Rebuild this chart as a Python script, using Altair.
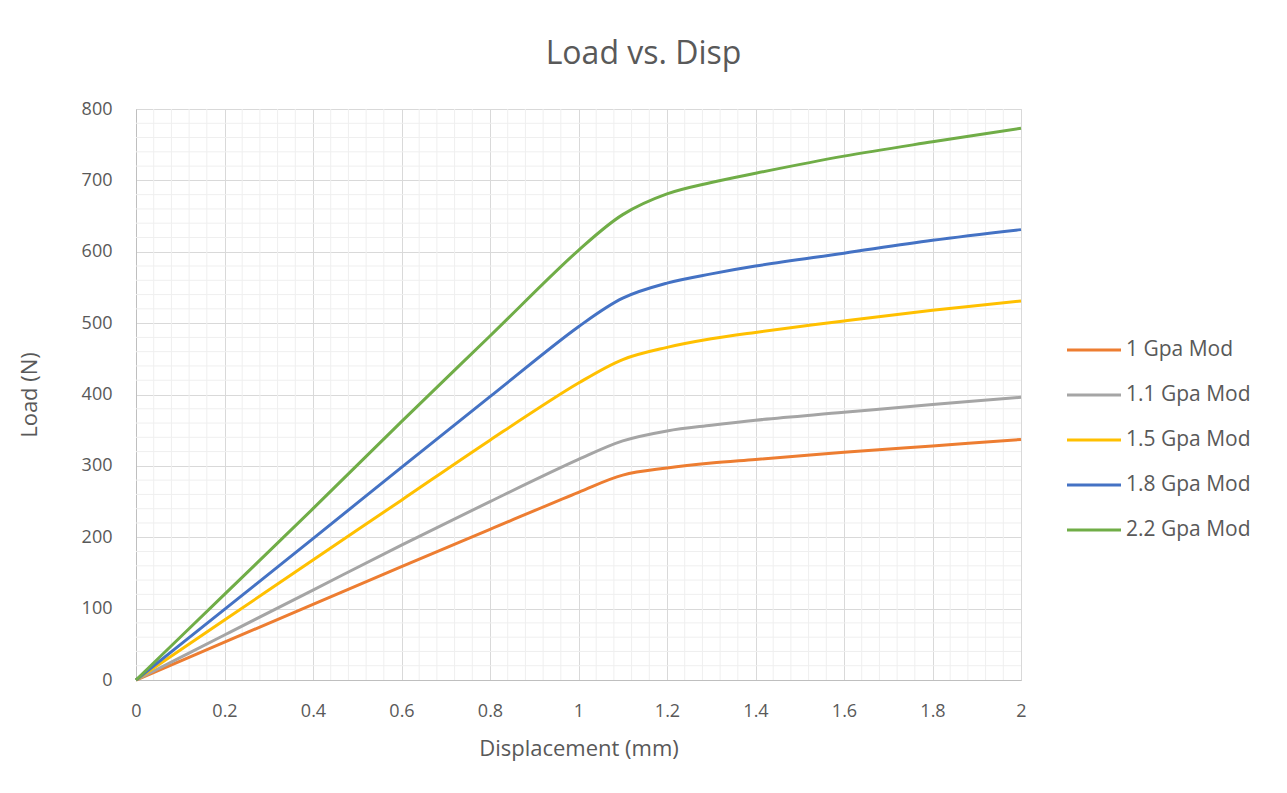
import altair as alt
import pandas as pd
import numpy as np

disp = [0, 0.2, 0.4, 0.6, 0.8, 1.0, 1.1, 1.2, 1.3, 1.4, 1.6, 1.8, 2.0]
series_names = ["1 Gpa Mod", "1.1 Gpa Mod", "1.5 Gpa Mod", "1.8 Gpa Mod", "2.2 Gpa Mod"]
load_1_0 = [0, 53, 106, 159, 211, 263, 287, 297, 304, 309, 319, 328, 337]
load_1_1 = [0, 63, 126, 189, 250, 309, 335, 349, 357, 364, 375, 386, 396]
load_1_5 = [0, 84, 168, 252, 336, 416, 449, 466, 478, 487, 503, 518, 531]
load_1_8 = [0, 99, 198, 298, 397, 495, 535, 556, 569, 580, 598, 616, 631]
load_2_2 = [0, 120, 240, 362, 482, 602, 652, 681, 697, 710, 734, 754, 773]
colors = ["#ED7D31", "#A5A5A5", "#FFC000", "#4472C4", "#70AD47"]

x_ticks = [0, 0.2, 0.4, 0.6, 0.8, 1.0, 1.2, 1.4, 1.6, 1.8, 2.0]
y_ticks = [0, 100, 200, 300, 400, 500, 600, 700, 800]
x_minor = [round(v, 2) for v in np.arange(0, 2.0001, 0.04) if abs(v / 0.2 - round(v / 0.2)) > 1e-6]
y_minor = [v for v in range(0, 801, 20) if v % 100 != 0]

rows = []
for name, vals in zip(series_names, [load_1_0, load_1_1, load_1_5, load_1_8, load_2_2]):
    for d, l in zip(disp, vals):
        rows.append({"Displacement": d, "Load": l, "Series": name})
df = pd.DataFrame(rows)

FONT = "Open Sans"
TXT = "#595959"

xscale = alt.Scale(domain=[0, 2], nice=False, zero=True)
yscale = alt.Scale(domain=[0, 800], nice=False)

xaxis = alt.Axis(values=x_ticks, format="~g", title="Displacement (mm)",
                 grid=True, gridColor="#d9d9d9", ticks=False, labelFlush=False,
                 domainColor="#bfbfbf", labelPadding=22, titlePadding=18)
yaxis = alt.Axis(values=y_ticks, format="d", title="Load (N)",
                 grid=True, gridColor="#d9d9d9", ticks=False, labelFlush=False,
                 domainColor="#bfbfbf", labelPadding=24, titlePadding=40)

minor_x = alt.Chart(pd.DataFrame({"v": x_minor})).mark_rule(color="#efefef", strokeWidth=1).encode(
    x=alt.X("v:Q", scale=xscale, axis=xaxis, title="Displacement (mm)")
)
minor_y = alt.Chart(pd.DataFrame({"v": y_minor})).mark_rule(color="#efefef", strokeWidth=1).encode(
    y=alt.Y("v:Q", scale=yscale, axis=yaxis, title="Load (N)")
)

lines = alt.Chart(df).mark_line(strokeWidth=3, interpolate="catmull-rom").encode(
    x=alt.X("Displacement:Q", scale=xscale, axis=xaxis, title="Displacement (mm)"),
    y=alt.Y("Load:Q", scale=yscale, axis=yaxis, title="Load (N)"),
    color=alt.Color("Series:N", scale=alt.Scale(domain=series_names, range=colors),
                    legend=alt.Legend(title=None, orient="none", legendX=934, legendY=217,
                                      symbolType="M-1.2,0H1.2", symbolSize=2025,
                                      symbolStrokeWidth=3, labelFontSize=21,
                                      labelColor=TXT, labelFont=FONT, labelOffset=8,
                                      rowPadding=11, padding=0)),
    order=alt.Order("Displacement:Q"),
)

chart = alt.layer(minor_x, minor_y, lines).properties(
    width=885, height=571,
    title=alt.Title("Load vs. Disp", fontSize=32, font=FONT, color=TXT, fontWeight="normal",
                    anchor="middle", dx=65, offset=29),
    autosize=alt.AutoSizeParams(type="none"),
    padding={"left": 136, "top": 109, "right": 266, "bottom": 113},
).configure(background="white").configure_view(stroke="#d9d9d9").configure_axis(
    labelFont=FONT, titleFont=FONT, labelColor=TXT, titleColor=TXT,
    labelFontSize=18, titleFontSize=22, titleFontWeight="normal"
)

chart.save("out.html", embed_options={"renderer": "svg", "actions": False})
